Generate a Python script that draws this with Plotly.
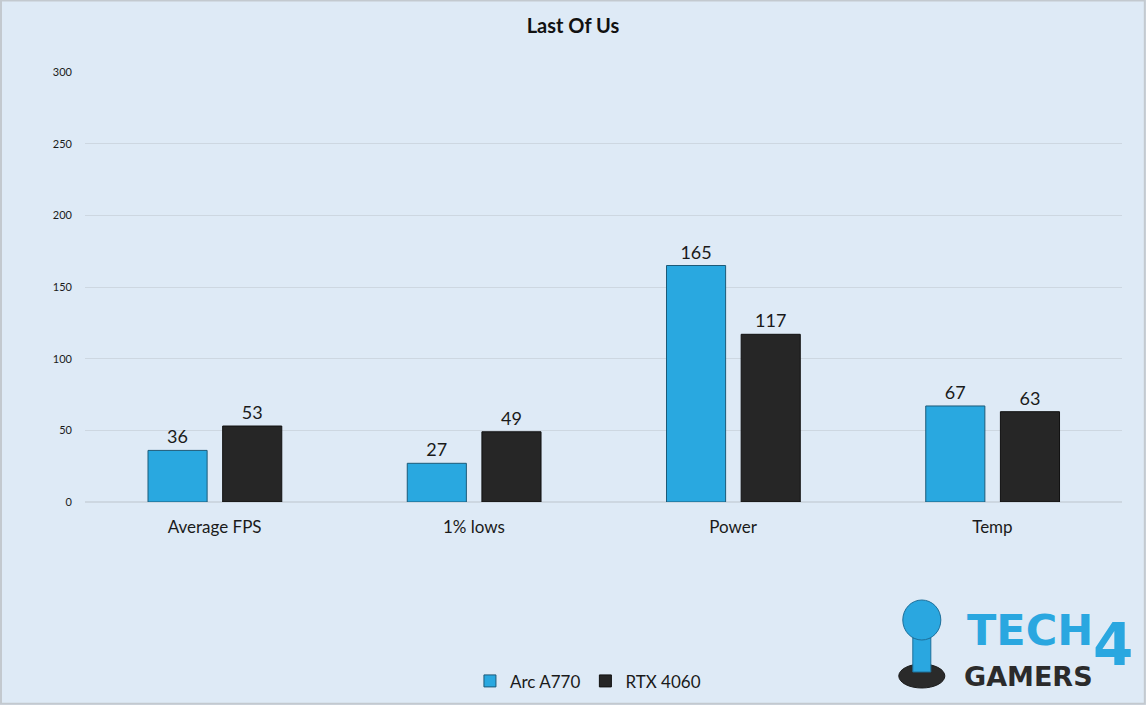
import plotly.graph_objects as go

categories = ["Average FPS", "1% lows", "Power", "Temp"]
arc_a770 = [36, 27, 165, 67]
rtx_4060 = [53, 49, 117, 63]
series_names = ["Arc A770", "RTX 4060"]
y_ticks = [0, 50, 100, 150, 200, 250, 300]

BG = "#deeaf6"
FONT = "Lato, 'Open Sans', sans-serif"

fig = go.Figure()
fig.add_trace(go.Bar(
    x=categories, y=arc_a770, name=series_names[0],
    marker=dict(color="#29a8e0", line=dict(color="#1d5a78", width=1)),
    width=0.228, offset=-0.257,
    text=arc_a770, textposition="outside",
    textfont=dict(size=18, color="#1a1a1a", family=FONT),
    cliponaxis=False,
))
fig.add_trace(go.Bar(
    x=categories, y=rtx_4060, name=series_names[1],
    marker=dict(color="#262626", line=dict(color="#111111", width=1)),
    width=0.228, offset=0.031,
    text=rtx_4060, textposition="outside",
    textfont=dict(size=18, color="#1a1a1a", family=FONT),
    cliponaxis=False,
))

fig.update_layout(
    width=1146, height=705,
    paper_bgcolor=BG, plot_bgcolor=BG,
    margin=dict(l=85, r=24, t=72, b=203),
    title=dict(text="<b>Last Of Us</b>", x=0.5, xanchor="center", y=0.963, yanchor="middle",
               font=dict(size=20, color="#111111", family=FONT)),
    barmode="overlay",
    showlegend=True,
    legend=dict(orientation="h", x=0.485, xanchor="center", y=0.008, yref="container", yanchor="bottom",
                font=dict(size=17, color="#1a1a1a", family=FONT), itemwidth=30,
                bgcolor="rgba(0,0,0,0)"),
    font=dict(family=FONT),
)
fig.update_xaxes(showgrid=False, showline=False, ticks="", ticklabelstandoff=13,
                 tickfont=dict(size=17, color="#1a1a1a", family=FONT))
fig.update_yaxes(range=[0, 300], tickvals=y_ticks, showgrid=True, gridcolor="#cdd7e1",
                 gridwidth=1, zeroline=True, zerolinecolor="#cdd7e1", showline=False,
                 ticks="", ticklabelstandoff=12,
                 tickfont=dict(size=11, color="#1a1a1a", family=FONT))


def px_x(v):
    return (v - 85) / 1036


def px_y(v):
    return (502 - v) / 430


# logo (approximation)
fig.add_shape(type="circle", xref="paper", yref="paper",
              x0=px_x(898), x1=px_x(944), y0=px_y(688), y1=px_y(664),
              line=dict(color="#1a1a1a", width=1), fillcolor="#2a2a2a")
fig.add_shape(type="rect", xref="paper", yref="paper",
              x0=px_x(912), x1=px_x(930), y0=px_y(672), y1=px_y(638),
              line=dict(color="#1d6f9a", width=1), fillcolor="#2aa7e0")
fig.add_shape(type="circle", xref="paper", yref="paper",
              x0=px_x(902), x1=px_x(940), y0=px_y(640), y1=px_y(600),
              line=dict(color="#1d6f9a", width=1), fillcolor="#2aa7e0")
fig.add_annotation(xref="paper", yref="paper", x=px_x(1094), y=px_y(630), xanchor="right", yanchor="middle",
                   text="<b>TECH</b>", showarrow=False,
                   font=dict(size=43, color="#2aa7e0", family="DejaVu Sans"))
fig.add_annotation(xref="paper", yref="paper", x=px_x(1134), y=px_y(645), xanchor="right", yanchor="middle",
                   text="<b>4</b>", showarrow=False,
                   font=dict(size=58, color="#2aa7e0", family="DejaVu Sans"))
fig.add_annotation(xref="paper", yref="paper", x=px_x(1094), y=px_y(676), xanchor="right", yanchor="middle",
                   text="<b>GAMERS</b>", showarrow=False,
                   font=dict(size=27, color="#2b2b2b", family="DejaVu Sans"))

fig.add_shape(type="rect", xref="paper", yref="paper", x0=-0.081, x1=1.022, y0=-0.469, y1=1.166,
              line=dict(color="#c3c9cf", width=2), fillcolor="rgba(0,0,0,0)", layer="below")

fig.write_html("out.html", config={"displayModeBar": False},
               post_script="document.body.style.margin='0';document.body.style.overflow='hidden';")
